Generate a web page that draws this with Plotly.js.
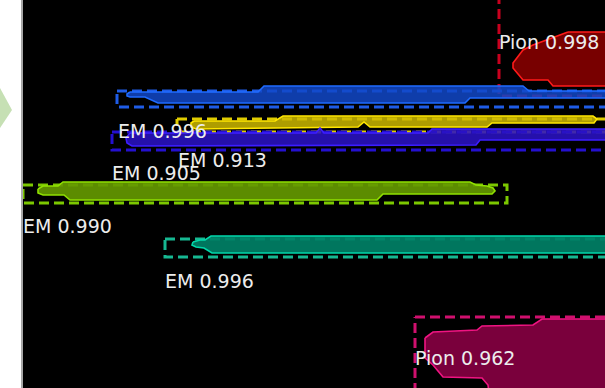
<!DOCTYPE html>
<html>
<head>
<meta charset="utf-8">
<script src="https://cdn.plot.ly/plotly-3.0.1.min.js"></script>
<style>html,body{margin:0;padding:0;background:#fff;}#chart{width:605px;height:388px;}</style>
</head>
<body>
<div id="chart"></div>
<script>
// ---- data (image pixel coordinates of detections) ----
const classes = ["Pion", "EM", "EM", "EM", "EM", "EM", "Pion"];
const scores  = [0.998, 0.996, 0.913, 0.905, 0.990, 0.996, 0.962];
const names   = ["red", "blue", "yellow", "indigo", "green", "teal", "magenta"];

const boxX0 = [499, 117, 177, 112, 23, 165, 415];
const boxY0 = [-10, 91, 119, 132, 185, 239, 317];
const boxX1 = [640, 640, 640, 640, 507, 640, 640];
const boxY1 = [96, 107, 132, 150, 203, 257, 400];

const labelX = [499, 118, 178, 112, 23, 165, 415];
const labelY = [42, 131, 160, 173, 226, 281, 358];

const polyX = [
  [568, 640, 640, 553, 548, 523, 513, 513, 523, 533],
  [130, 258, 264, 523, 529, 640, 640, 470, 465, 158, 145, 130, 127, 127],
  [194, 275, 283, 593, 597, 594, 492, 487, 370, 364, 358, 196, 191, 191],
  [130, 316, 320, 324, 428, 432, 640, 640, 480, 476, 132, 127, 126],
  [38, 43, 58, 63, 470, 476, 487, 493, 495, 492, 383, 377, 70, 64, 43, 38],
  [193, 200, 205, 211, 640, 640, 212, 204, 196, 192],
  [425, 433, 477, 482, 533, 542, 640, 640, 490, 488, 482, 443, 433, 425]
];
const polyY = [
  [32, 32, 86, 86, 80, 80, 68, 63, 50, 45],
  [92, 92, 86, 86, 91, 91, 98, 98, 103, 103, 97, 97, 96, 94],
  [121, 121, 116, 116, 119, 123, 123, 127, 127, 122, 127, 129, 127, 123],
  [133, 133, 128, 133, 133, 129, 129, 140, 140, 145, 146, 143, 138],
  [189, 186, 186, 182, 182, 185, 186, 188, 191, 194, 194, 200, 200, 195, 195, 193],
  [242, 240, 240, 236, 236, 253, 253, 248, 247, 245],
  [338, 332, 330, 326, 325, 319, 319, 400, 400, 385, 378, 377, 365, 358]
];

// decoration outside the plot (left strip arrow tip)
const arrowPX = [0, 12, 0];
const arrowPY = [88, 110, 128];

// ---- styles ----
const style = {
  red:     {box: "#c8001e", edge: "#ff1a1a", fill: "rgba(128,0,0,0.94)"},
  blue:    {box: "#1f5ce6", edge: "#1f6bff", fill: "rgba(18,72,200,0.85)"},
  yellow:  {box: "#e0cc00", edge: "#ffe600", fill: "rgba(205,185,0,0.85)"},
  indigo:  {box: "#2410d0", edge: "#3c1eff", fill: "rgba(42,18,195,0.88)"},
  green:   {box: "#7cc800", edge: "#8fe000", fill: "rgba(100,152,0,0.92)"},
  teal:    {box: "#16b892", edge: "#00d8aa", fill: "rgba(0,128,102,0.92)"},
  magenta: {box: "#d0106e", edge: "#f01482", fill: "rgba(130,0,64,0.94)"}
};

const W = 605, H = 388, L = 23;
const traces = [];
for (let i = 0; i < names.length; i++) {
  const s = style[names[i]];
  traces.push({
    type: "scatter", mode: "lines", hoverinfo: "skip", showlegend: false,
    x: [boxX0[i], boxX1[i], boxX1[i], boxX0[i], boxX0[i]],
    y: [boxY0[i], boxY0[i], boxY1[i], boxY1[i], boxY0[i]],
    line: {color: s.box, width: 3, dash: "10px,5px"}
  });
  traces.push({
    type: "scatter", mode: "lines", hoverinfo: "skip", showlegend: false,
    x: polyX[i].concat([polyX[i][0]]),
    y: polyY[i].concat([polyY[i][0]]),
    fill: "toself", fillcolor: s.fill,
    line: {color: s.edge, width: 1.6}
  });
}

const annotations = classes.map((c, i) => ({
  x: labelX[i], y: labelY[i], xref: "x", yref: "y",
  text: c + " " + scores[i].toFixed(3),
  showarrow: false, xanchor: "left", yanchor: "middle", xshift: -1,
  borderpad: 0,
  font: {family: "DejaVu Sans", size: 19, color: "#ececec"}
}));

const px2paperX = v => (v - L) / (W - L);
const px2paperY = v => 1 - v / H;
let arrowPath = "M" + arrowPX.map((x, k) => px2paperX(x) + "," + px2paperY(arrowPY[k])).join(" L") + " Z";

const layout = {
  width: W, height: H,
  margin: {l: L, r: 0, t: 0, b: 0, pad: 0},
  paper_bgcolor: "#ffffff", plot_bgcolor: "#000000",
  xaxis: {range: [L, W], visible: false, fixedrange: true},
  yaxis: {range: [H, 0], visible: false, fixedrange: true},
  annotations: annotations,
  shapes: [
    {type: "path", xref: "paper", yref: "paper", path: arrowPath,
     fillcolor: "#c6e0b4", line: {width: 0}},
    {type: "line", xref: "paper", yref: "paper",
     x0: px2paperX(22), x1: px2paperX(22), y0: 0, y1: 1,
     line: {color: "#8a8a8a", width: 1.5}}
  ]
};

Plotly.newPlot("chart", traces, layout, {staticPlot: true, displayModeBar: false});
</script>
</body>
</html>
